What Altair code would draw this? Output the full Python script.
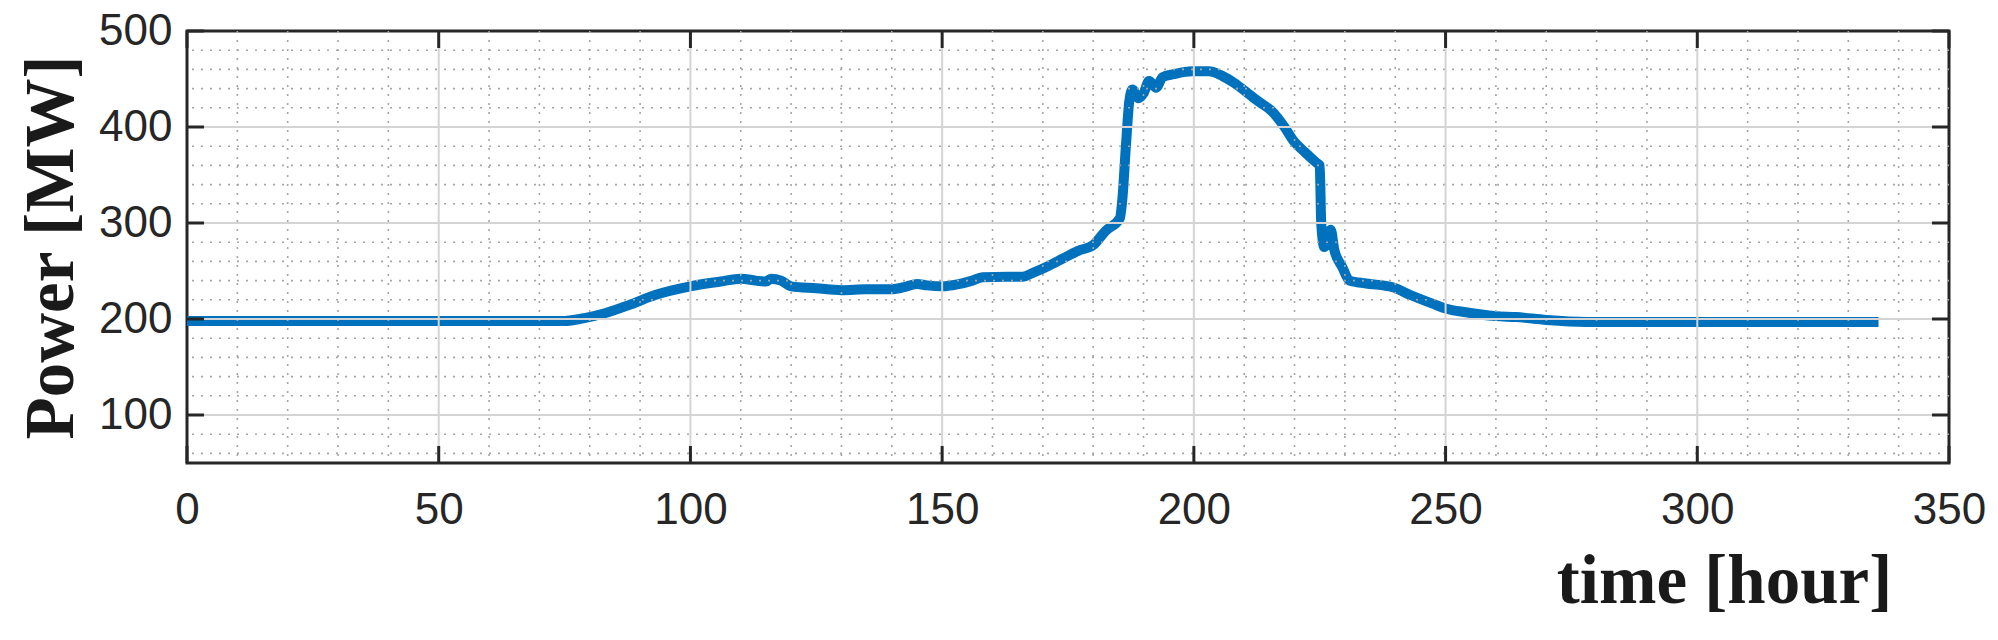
import altair as alt
import pandas as pd

# ---- data ----
hours = [0, 75, 78, 83, 88, 93, 100, 106, 110, 113, 115, 116, 118, 120, 125, 130, 135, 140,
         143, 145, 147, 150, 153, 156, 158, 163, 166, 168, 171, 174, 177, 180, 182.5, 185.3,
         185.8, 186.5, 187.2, 187.8, 189, 190, 191.1, 192.5, 193.8, 196, 199.7, 203, 205.7,
         208, 211, 213, 215.6, 218, 219.6, 222, 224.3, 225, 225.3, 225.9, 226.6, 227.2, 227.9,
         229.5, 230.9, 234.2, 239.5, 243, 247.4, 250, 254, 260, 264, 270, 278, 336]
power = [198, 198, 200, 206, 215, 225, 234, 239, 242, 240, 239, 242, 240, 234, 232, 230, 231, 231,
         234, 236.5, 235, 234, 236, 240, 243.5, 244, 244, 248, 255, 263, 271, 277, 292, 305,
         325, 380, 428, 439, 430, 435, 448, 441, 452, 455, 458, 458, 453,
         446, 434, 426, 416, 400, 387, 374, 363, 360, 300, 275, 285, 293, 272,
         254, 240, 237, 233, 225, 216, 211, 207, 203, 202, 199, 197, 197]

x_major = [0, 50, 100, 150, 200, 250, 300, 350]
y_major = [100, 200, 300, 400, 500]
x_minor = [v for v in range(10, 350, 10) if v % 50 != 0]
y_minor = [v for v in range(60, 500, 20) if v % 100 != 0]
x_grid = [50, 100, 150, 200, 250, 300]
y_grid = [100, 200, 300, 400]

W, H = 1762, 432
TICK = 17

xs = alt.Scale(domain=[0, 350], nice=False, zero=False)
ys = alt.Scale(domain=[50, 500], nice=False, zero=False)

x_axis = alt.Axis(
    title="time [hour]", values=x_major, format="d", grid=False, ticks=False,
    domain=False, labelPadding=25, labelFontSize=44, labelFont="Liberation Sans",
    labelColor="#262626", titleFont="Liberation Serif", titleFontWeight="bold",
    titleFontSize=69, titleColor="#1a1a1a", titleX=1537, titleY=139,
    titleAlign="center", titleBaseline="alphabetic", labelFlush=False)
y_axis = alt.Axis(
    title="Power [MW]", values=y_major, format="d", grid=False, ticks=False,
    domain=False, labelPadding=15, labelFontSize=44, labelFont="Liberation Sans",
    labelColor="#262626", titleFont="Liberation Serif", titleFontWeight="bold",
    titleFontSize=69, titleColor="#1a1a1a", titleX=-115, titleY=216,
    titleAngle=270, titleAlign="center", titleBaseline="alphabetic",
    labelFlush=False)

X = lambda: alt.X("t:Q", scale=xs, axis=x_axis)
Y = lambda: alt.Y("p:Q", scale=ys, axis=y_axis)

df_line = pd.DataFrame({"t": hours, "p": power})

minor_x = alt.Chart(pd.DataFrame({"t": x_minor})).mark_rule(
    color="#a6a6a6", strokeWidth=1.6, strokeDash=[2, 7]
).encode(x=X())

minor_y = alt.Chart(pd.DataFrame({"p": y_minor})).mark_rule(
    color="#a6a6a6", strokeWidth=1.6, strokeDash=[2, 7]
).encode(y=Y())

major_x = alt.Chart(pd.DataFrame({"t": x_grid})).mark_rule(
    color="#d4d4d4", strokeWidth=2
).encode(x=X())

major_y = alt.Chart(pd.DataFrame({"p": y_grid})).mark_rule(
    color="#d4d4d4", strokeWidth=2
).encode(y=Y())

tick_style = dict(color="#262626", strokeWidth=3)
xt = pd.DataFrame({"t": x_major})
yt = pd.DataFrame({"p": y_major})
ticks_bottom = alt.Chart(xt).mark_rule(**tick_style).encode(
    x=X(), y=alt.value(H), y2=alt.value(H - TICK))
ticks_top = alt.Chart(xt).mark_rule(**tick_style).encode(
    x=X(), y=alt.value(0), y2=alt.value(TICK))
ticks_left = alt.Chart(yt).mark_rule(**tick_style).encode(
    y=Y(), x=alt.value(0), x2=alt.value(TICK))
ticks_right = alt.Chart(yt).mark_rule(**tick_style).encode(
    y=Y(), x=alt.value(W - TICK), x2=alt.value(W))

line = alt.Chart(df_line).mark_line(
    color="#0072BD", strokeWidth=10, interpolate="monotone", strokeJoin="round"
).encode(x=X(), y=Y())

chart = alt.layer(
    line, minor_x, minor_y, major_x, major_y,
    ticks_bottom, ticks_top, ticks_left, ticks_right
).properties(
    width=W, height=H, autosize="none",
    padding={"left": 179, "top": 23, "right": 38, "bottom": 160},
    background="white",
).configure_view(stroke="#262626", strokeWidth=3)

chart.save("out.html", embed_options={"renderer": "svg", "actions": False})
